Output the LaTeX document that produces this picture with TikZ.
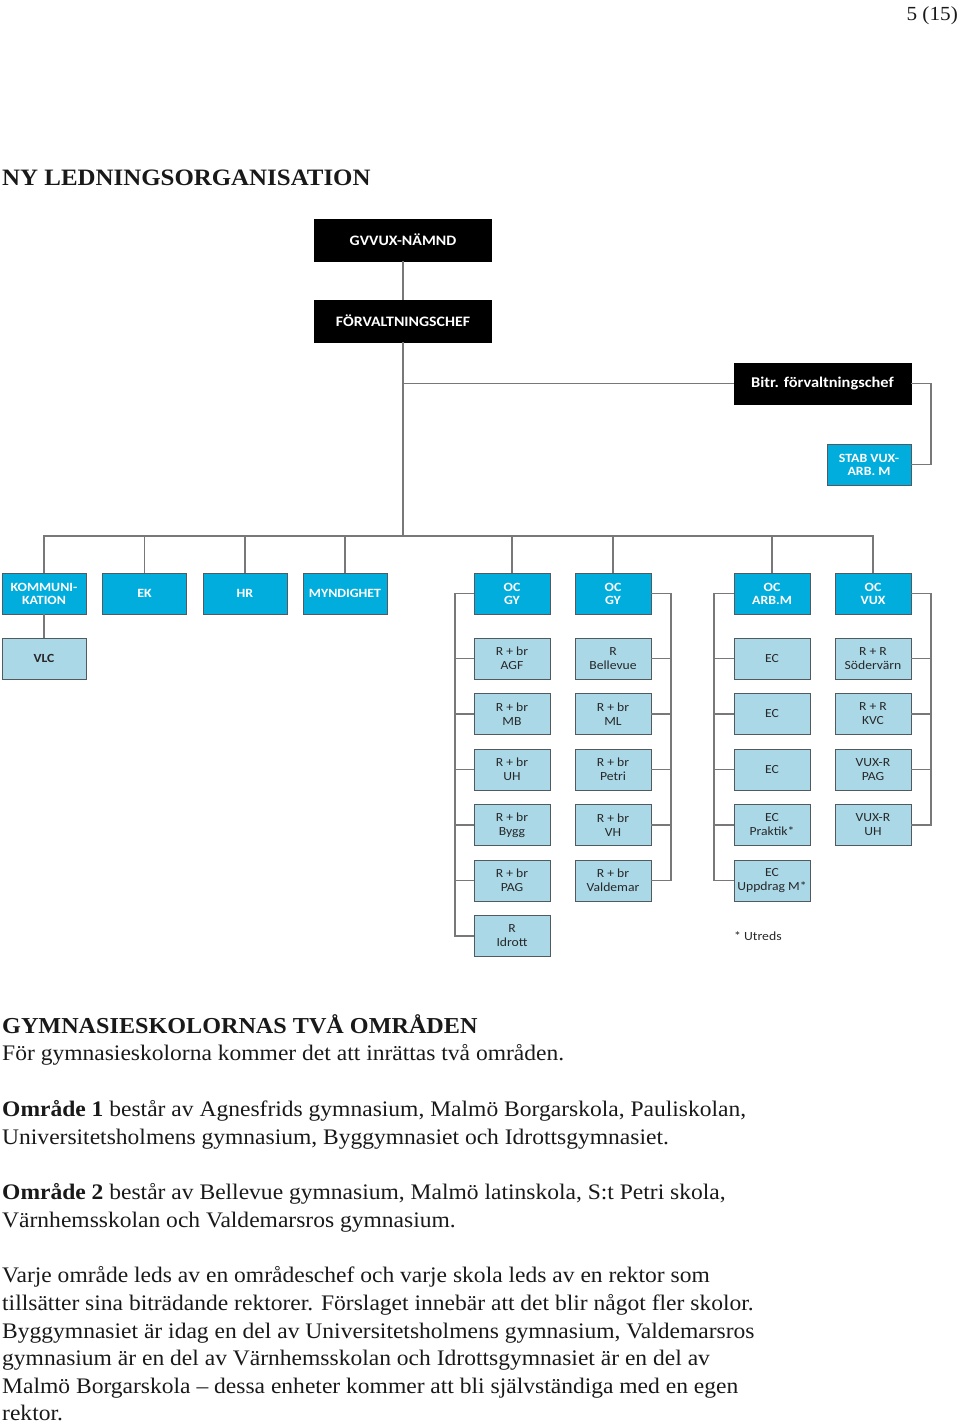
\documentclass[tikz,border=0pt]{standalone}
\usepackage{fontspec}
\setmainfont{Liberation Serif}[FakeStretch=1.06]
\newfontfamily\boxfont{Carlito}[FakeStretch=1.1]
\definecolor{ocblue}{RGB}{0,173,220}
\definecolor{ltblue}{RGB}{170,216,231}
\definecolor{boxedge}{RGB}{80,90,95}
\definecolor{linegray}{RGB}{120,120,120}
\definecolor{txtdark}{RGB}{40,40,40}
\definecolor{bodyblack}{RGB}{25,25,25}
\tikzset{
  conn/.style={draw=linegray, line width=1.3pt},
  blackbox/.style={draw=black, fill=black, text=white, minimum width=177pt, minimum height=42pt, inner sep=0pt, font=\boxfont\bfseries\fontsize{14.4}{15}\selectfont, align=center},
  bluebox/.style={draw=boxedge, line width=0.8pt, fill=ocblue, text=white, minimum height=41pt, inner sep=0pt, font=\boxfont\bfseries\fontsize{12.6}{13}\selectfont, align=center},
  wideblue/.style={bluebox, minimum width=84pt},
  narrowblue/.style={bluebox, minimum width=76pt},
  lightbox/.style={draw=boxedge, line width=0.8pt, fill=ltblue, text=txtdark, minimum width=76pt, minimum height=41pt, inner sep=0pt, font=\boxfont\fontsize{12.4}{14}\selectfont, align=center},
  bodytext/.style={anchor=base west, inner sep=0pt, text=bodyblack, font=\fontsize{22.2}{26}\selectfont},
}
\begin{document}
\begin{tikzpicture}[x=1pt,y=-1pt]
\useasboundingbox (0,0) rectangle (960,1424);

% page number and headings
\node[anchor=base east, inner sep=0pt, text=bodyblack, font=\fontsize{20}{24}\selectfont] (pnum) at (958,20) {5 (15)};
\node[anchor=base west, inner sep=0pt, text=bodyblack, font=\fontsize{23.5}{27}\selectfont\bfseries] (title) at (2,185) {NY LEDNINGSORGANISATION};

% top boxes
\node[blackbox] (gv) at (403,240) {GVVUX-NÄMND};
\node[blackbox] (fc) at (403,321) {FÖRVALTNINGSCHEF};
\node[blackbox, minimum height=41pt, font=\boxfont\bfseries\fontsize{14.9}{15}\selectfont] (bitr) at (822.5,383.5) {Bitr. förvaltningschef};
\node[bluebox, minimum width=84pt, minimum height=41pt] (stab) at (869,464.5) {STAB VUX-\\ARB. M};

% second level
\node[wideblue] (kom) at (44,593.5) {KOMMUNI-\\KATION};
\node[wideblue] (ek) at (144.5,593.5) {EK};
\node[wideblue] (hr) at (245,593.5) {HR};
\node[wideblue] (myn) at (345,593.5) {MYNDIGHET};
\node[narrowblue] (gy1) at (512,593.5) {OC\\GY};
\node[narrowblue] (gy2) at (613,593.5) {OC\\GY};
\node[narrowblue] (arb) at (772,593.5) {OC\\ARB.M};
\node[narrowblue] (vux) at (873,593.5) {OC\\VUX};

\node[lightbox, minimum width=84pt] (vlc) at (44,658.5) {\bfseries VLC};

% column 1
\node[lightbox] (agf) at (512,658.5) {R + br\\AGF};
\node[lightbox] (mb) at (512,714) {R + br\\MB};
\node[lightbox] (uh) at (512,769.5) {R + br\\UH};
\node[lightbox] (bygg) at (512,825) {R + br\\Bygg};
\node[lightbox] (pag) at (512,880.5) {R + br\\PAG};
\node[lightbox] (idr) at (512,936) {R\\Idrott};
% column 2
\node[lightbox] (bel) at (613,658.5) {R\\Bellevue};
\node[lightbox] (ml) at (613,714) {R + br\\ML};
\node[lightbox] (pet) at (613,769.5) {R + br\\Petri};
\node[lightbox] (vh) at (613,825) {R + br\\VH};
\node[lightbox] (val) at (613,880.5) {R + br\\Valdemar};
% column 3
\node[lightbox] (ec1) at (772,658.5) {EC};
\node[lightbox] (ec2) at (772,714) {EC};
\node[lightbox] (ec3) at (772,769.5) {EC};
\node[lightbox] (ec4) at (772,825) {EC\\Praktik*};
\node[lightbox] (ec5) at (772,880.5) {EC\\Uppdrag M*};
% column 4
\node[lightbox] (sod) at (873,658.5) {R + R\\Södervärn};
\node[lightbox] (kvc) at (873,714) {R + R\\KVC};
\node[lightbox] (vpag) at (873,769.5) {VUX-R\\PAG};
\node[lightbox] (vuh) at (873,825) {VUX-R\\UH};

\node[anchor=base west, inner sep=0pt, text=txtdark, font=\boxfont\fontsize{12.5}{14}\selectfont] (utreds) at (734,940) {* Utreds};

% connector helpers
\coordinate (bar) at (0,536);
\coordinate (b1) at (455,0);
\coordinate (b2) at (671,0);
\coordinate (b3) at (714,0);
\coordinate (b4) at (931,0);

% connectors
\draw[conn] (gv) -- (fc);
\draw[conn] (fc.south) -- (fc.south |- bar);
\draw[conn] (fc.south |- bitr.west) -- (bitr.west);
\draw[conn] (bitr.east) -- (bitr.east -| b4) |- (stab.east);
\draw[conn] (kom.north) -- (kom.north |- bar) -- (vux.north |- bar) -- (vux.north);
\foreach \n in {ek,hr,myn,gy1,gy2,arb}{
  \draw[conn] (\n.north) -- (\n.north |- bar);
}
\draw[conn] (kom) -- (vlc);

\draw[conn] (gy1.west) -- (gy1.west -| b1) |- (idr.west);
\foreach \n in {agf,mb,uh,bygg,pag}{ \draw[conn] (\n.west) -- (\n.west -| b1); }
\draw[conn] (gy2.east) -- (gy2.east -| b2) |- (val.east);
\foreach \n in {bel,ml,pet,vh}{ \draw[conn] (\n.east) -- (\n.east -| b2); }
\draw[conn] (arb.west) -- (arb.west -| b3) |- (ec5.west);
\foreach \n in {ec1,ec2,ec3,ec4}{ \draw[conn] (\n.west) -- (\n.west -| b3); }
\draw[conn] (vux.east) -- (vux.east -| b4) |- (vuh.east);
\foreach \n in {sod,kvc,vpag}{ \draw[conn] (\n.east) -- (\n.east -| b4); }

% body text
\node[anchor=base west, inner sep=0pt, text=bodyblack, font=\fontsize{22.8}{26}\selectfont\bfseries] (h2) at (2,1033) {GYMNASIESKOLORNAS TVÅ OMRÅDEN};
\node[bodytext] (l1) at (2,1060) {För gymnasieskolorna kommer det att inrättas två områden.};
\node[bodytext] (l2) at (2,1116) {\textbf{Område 1} består av Agnesfrids gymnasium, Malmö Borgarskola, Pauliskolan,};
\node[bodytext] (l3) at (2,1144) {Universitetsholmens gymnasium, Byggymnasiet och Idrottsgymnasiet.};
\node[bodytext] (l4) at (2,1199) {\textbf{Område 2} består av Bellevue gymnasium, Malmö latinskola, S:t Petri skola,};
\node[bodytext] (l5) at (2,1227) {Värnhemsskolan och Valdemarsros gymnasium.};
\node[bodytext] (l6) at (2,1282) {Varje område leds av en områdeschef och varje skola leds av en rektor som};
\node[bodytext] (l7) at (2,1310) {tillsätter sina biträdande rektorer. Förslaget innebär att det blir något fler skolor.};
\node[bodytext] (l8) at (2,1338) {Byggymnasiet är idag en del av Universitetsholmens gymnasium, Valdemarsros};
\node[bodytext] (l9) at (2,1365) {gymnasium är en del av Värnhemsskolan och Idrottsgymnasiet är en del av};
\node[bodytext] (l10) at (2,1393) {Malmö Borgarskola – dessa enheter kommer att bli självständiga med en egen};
\node[bodytext] (l11) at (2,1420) {rektor.};
\end{tikzpicture}
\end{document}
